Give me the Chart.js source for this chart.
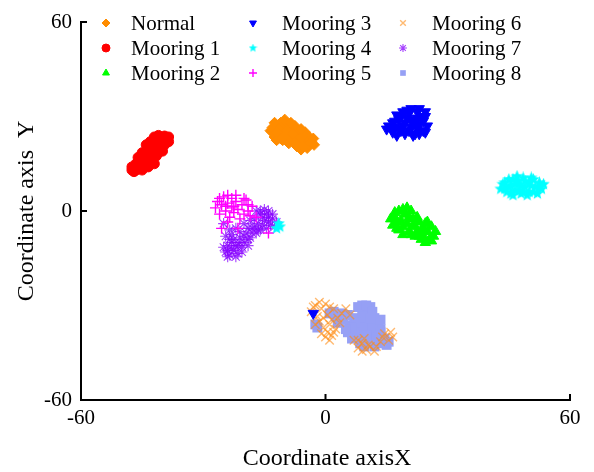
<!DOCTYPE html>
<html>
<head>
<meta charset="utf-8">
<script src="https://cdn.jsdelivr.net/npm/chart.js@4.4.0/dist/chart.umd.min.js"></script>
<style>
  html, body { margin: 0; padding: 0; background: #fff; }
</style>
</head>
<body>
<canvas id="myChart" width="594" height="472"></canvas>
<script>
// Class names, in legend order (column by column)
const seriesNames = ['Normal', 'Mooring 1', 'Mooring 2', 'Mooring 3', 'Mooring 4', 'Mooring 5', 'Mooring 6', 'Mooring 7', 'Mooring 8'];
const xTicks = [-60, 0, 60];
const yTicks = [-60, 0, 60];

// Embedded coordinates of each class, [x, y]
const normalPts = [[-13,25],[-12,27],[-11,28],[-12.5,23.5],[-11,24.5],[-10,26.5],[-9.5,28],[-10.5,22.5],[-9,24],[-8,26],
  [-8,22],[-7,24.5],[-6.5,21],[-6,23.5],[-5,25],[-5,22],[-4,23.5],[-4.5,20],[-3.5,22],[-6,19.5],[-13,26.5],[-11.5,26],
  [-9,21.5],[-7.5,27],[-12,22.5],[-8.5,23],[-5.5,24],[-7,20.5],[-13.5,25.5],[-12.5,28],[-10,29],[-8.5,28],[-11,23],
  [-9.5,25.5],[-7,23],[-6,26],[-4,21],[-5.5,20.5],[-3,23],[-2.8,21],[-10,24],[-8,24.5],[-6.5,22.5],[-12,25],[-7.5,21.5]];
const m1Pts = [[-39,22.5],[-40,23],[-41,22],[-42,23.5],[-40.5,20.5],[-39.5,21],[-42,21],[-43,20],[-41.5,19.5],[-44,19],
  [-43,22],[-42.5,18],[-44,17.5],[-45,18.5],[-43.5,16],[-45,16],[-46,17],[-46.5,15],[-47.5,14],[-46,13.5],[-44.5,14.5],
  [-42.5,16.5],[-41.5,17.5],[-45,13],[-47,12.5],[-43.5,14],[-40,19],[-38.5,22],[-41,24],[-44,21],[-46.5,13],[-42,15],
  [-38.5,23.5],[-40,21.5],[-43.5,18.5],[-45.5,15],[-47.5,13],[-41,18.5],[-44,15.5],[-39.5,23.8]];
const m2Pts = [[17,-2],[16.5,-4.5],[18,0],[18.5,-3],[18,-6],[19.5,-1],[20,-4],[20.5,-6.5],[21,0],[21.5,-2.5],[22,-5],
  [22.5,-2],[23,-3.5],[23.5,-6],[24,-8],[24.5,-4],[25,-6.5],[25.5,-9],[26,-5],[26.5,-8],[22,-8],[19,-7.5],[23.5,-9],
  [20,1],[17.5,-5.5],[16,-2.5],[17,-0.5],[19,0.5],[19,-5],[20.5,-2],[21,-7.5],[22.5,-6.5],[24,-5.5],[25,-3.5],
  [26,-9.5],[24.5,-10],[27,-6.5],[21.5,-4.5],[23,-8],[17.5,-3.5]];
const m3Pts = [[15.5,27],[16.5,25],[17,28.5],[18,26],[18.5,30],[19.5,24.5],[19.5,28],[20.5,31],[21,26.5],[21.5,29],
  [22,24.5],[22.5,31.5],[23,27.5],[23.5,30],[24,25.5],[24.5,31.5],[17.5,24],[20,32],[21.5,24],[16,26.5],[23,24.5],
  [24,28.5],[19,27],[22,28],[18,29],[15,26],[16.5,28],[17.5,30.5],[19,31.5],[21,32.5],[23,32.5],[24.5,30],[25,27],
  [24.5,25],[22.5,26],[20.5,25.5],[20,29.5],[18.5,25.5],[17,26.5],[21,28.5],[22.5,29.5],[-3,-32.5]];
const m4Pts = [[43,7],[44,9],[44.5,6],[45.5,8],[46,10],[46.5,6.5],[47.5,8.5],[48,5.5],[48.5,10.5],[49,7.5],[50,9],
  [50,6],[51,10],[51.5,7.5],[52,5.5],[52.5,9],[53,7],[46,5],[49.5,5],[47,11],[45,7.5],[50.5,8],[44,7],[48,8],
  [43.5,8.5],[45,10],[46.5,8.5],[47.5,6.5],[49,9.5],[50.5,10.5],[51,6],[52.5,7.5],[53.5,8.5],[48.5,6],[45.5,5.5],
  [47,9.5],[-11.5,-4],[-12,-5.5],[-11.2,-5]];
const m5Pts = [[-27,1],[-26.5,3],[-26,-1],[-25.5,2],[-25,4.5],[-24.5,0],[-24,2.5],[-23.5,-2],[-23,4],[-23,1],
  [-22.5,-0.5],[-22,3],[-21.5,0.5],[-21,-2.5],[-20.5,2],[-20,-1],[-19.5,3.5],[-19,0],[-18.5,-1.5],[-18,1.5],
  [-25.5,-5.5],[-21.5,-5.5],[-14,-7],[-17,-2],[-24,-3.5],[-26,4],[-24,5],[-22,5],[-20,4],[-19,2],[-22.5,1.5],[-24.5,1.5]];
const m6Pts = [[-3.5,-32],[-2.5,-30],[-2,-33.5],[-1,-31],[-1.5,-35],[0,-29.5],[0.5,-33],[-0.5,-37],[1,-36],[1.5,-39.5],
  [0,-40],[2,-31],[3,-34],[4,-32.5],[5,-31],[2.5,-37.5],[-2.5,-36],[7,-41],[8,-43.5],[9,-42],[10,-44],[11,-43],
  [12,-44.5],[13.5,-41.5],[14.5,-39],[15.5,-41],[16,-38.5],[9.5,-40.5],[1,-41],[-3,-30.5],[-1.5,-29],[1,-30.5],
  [-0.5,-34],[1.5,-34.5],[2,-38.5],[0.5,-38.5],[-1,-39],[3.5,-35.5],[6,-33],[8,-41],[12.5,-43],[10.5,-42.5],[14,-40],
  [16.5,-40],[9,-44.5]];
const m7Pts = [[-24.5,-13],[-23.5,-14],[-22.5,-12.5],[-24,-11],[-23,-10],[-21.5,-11],[-22,-14.5],[-20.5,-13],[-24.5,-8],
  [-23,-7.5],[-21,-8.5],[-20,-10],[-19.5,-7],[-18.5,-8.5],[-18,-5.5],[-17,-7],[-16.5,-4],[-16,-1],[-15,-3],[-15,0.5],
  [-14,-2],[-13.5,-4.5],[-13,-1],[-12,-3.5],[-17.5,-2.5],[-16,-6],[-20,-4],[-22,-5.5],[-18.5,-3],[-14.5,-5.5],
  [-25,-4],[-19,-11],[-17,0],[-24,-14.5],[-23,-12],[-21.5,-13.5],[-22.5,-9],[-21,-10],[-23.5,-9],[-20,-8],[-19,-9],
  [-18,-7],[-17.5,-5],[-16.5,-6],[-15.5,-4.5],[-15.5,-2],[-14.5,-1],[-14,-3.5],[-13,-2.5],[-12.5,-5],[-16,0],[-14,0],
  [-19,-5.5],[-21,-6.5],[-23.5,-6],[-25,-11.5],[-20.5,-11.5],[-22,-11],[-24,-12.5]];
const m8Pts = [[1,-32.5],[2.5,-33.5],[4,-32.5],[5.5,-33],[3,-35.5],[-2,-37],[9,-30],[11,-30.5],[10,-32.5],[7,-34],
  [8.5,-35],[10.5,-35.5],[12,-34],[13,-36],[6,-36.5],[7.5,-38],[9,-39.5],[11,-38.5],[13,-39],[14.5,-40.5],[12,-41.5],
  [6.5,-40.5],[8.5,-42],[10.5,-41],[15,-42.5],[13.5,-37.5],[5.5,-38.5],[2,-32],[4.5,-34.5],[-2.5,-36],[8,-30.5],
  [10,-30],[11.5,-32],[9,-33.5],[7.5,-35.5],[9.5,-37],[11.5,-37],[13.5,-38.5],[12.5,-40],[10,-39.5],[8,-40],[7,-39],
  [14,-42],[12,-43],[9.5,-43],[6.5,-37],[5,-37.5],[15.5,-41.5],[13.5,-34.5],[11,-34]];

const allPts = [normalPts, m1Pts, m2Pts, m3Pts, m4Pts, m5Pts, m6Pts, m7Pts, m8Pts];

// small filled five-point star used as a marker
function makeStar(size, color) {
  const c = document.createElement('canvas');
  c.width = c.height = size;
  const g = c.getContext('2d');
  g.fillStyle = color;
  g.beginPath();
  for (let i = 0; i < 10; i++) {
    const r = i % 2 ? size * 0.22 : size * 0.5;
    const a = -Math.PI / 2 + i * Math.PI / 5;
    g.lineTo(size / 2 + r * Math.cos(a), size / 2 + r * Math.sin(a));
  }
  g.closePath();
  g.fill();
  return c;
}

const styles = [
  { color: '#ff8c00', pointStyle: 'rectRot', radius: 5.5, borderWidth: 1 },
  { color: '#ff0000', pointStyle: 'circle', radius: 5, borderWidth: 1 },
  { color: '#00ff00', pointStyle: 'triangle', radius: 6, borderWidth: 1 },
  { color: '#0000ff', pointStyle: 'triangle', rotation: 180, radius: 6, borderWidth: 1 },
  { color: '#00ffff', pointStyle: makeStar(13, '#00ffff'), legendStyle: makeStar(9, '#00ffff'), radius: 5, borderWidth: 1 },
  { color: '#ff00ff', pointStyle: 'cross', radius: 5.5, borderWidth: 1.4 },
  { color: 'rgba(255,140,20,0.6)', pointStyle: 'crossRot', radius: 6, borderWidth: 1.4 },
  { color: 'rgba(135,0,255,0.75)', pointStyle: 'star', radius: 5.5, borderWidth: 1.1 },
  { color: 'rgb(150,160,245)', pointStyle: 'rect', radius: 7, borderWidth: 0 }
];

const datasets = seriesNames.map((name, i) => ({
  label: name,
  data: allPts[i].map(p => ({ x: p[0], y: p[1] })),
  pointStyle: styles[i].pointStyle,
  rotation: styles[i].rotation || 0,
  pointRadius: styles[i].radius,
  pointBorderWidth: styles[i].borderWidth,
  backgroundColor: styles[i].color,
  borderColor: styles[i].color,
  showLine: false
}));

const FONT = '"Liberation Serif", "Times New Roman", serif';

// Legend in three columns, titles and inward tick marks
const decorations = {
  id: 'decorations',
  afterDraw(chart) {
    const ctx = chart.ctx;
    const xs = chart.scales.x, ys = chart.scales.y;
    ctx.save();
    ctx.strokeStyle = '#000';
    ctx.lineWidth = 2;
    ctx.beginPath();
    [0, 60].forEach(v => {
      const py = ys.getPixelForValue(v);
      ctx.moveTo(xs.left, py);
      ctx.lineTo(xs.left + 6, py);
      const px = xs.getPixelForValue(v);
      ctx.moveTo(px, ys.bottom);
      ctx.lineTo(px, ys.bottom - 6);
    });
    ctx.stroke();

    const markX = [106, 253, 403];
    const textX = [131, 282, 432];
    const rowY = [23, 48, 73];
    ctx.font = '21px ' + FONT;
    ctx.textBaseline = 'middle';
    ctx.textAlign = 'left';
    seriesNames.forEach((name, i) => {
      const col = Math.floor(i / 3), row = i % 3;
      const st = styles[i];
      ctx.fillStyle = st.color;
      ctx.strokeStyle = st.color;
      ctx.lineWidth = st.borderWidth || 1;
      Chart.helpers.drawPoint(ctx, {
        pointStyle: st.legendStyle || st.pointStyle,
        rotation: st.rotation || 0,
        radius: 4,
        borderWidth: st.borderWidth
      }, markX[col], rowY[row]);
      ctx.fillStyle = '#000';
      ctx.fillText(name, textX[col], rowY[row] + 1);
    });

    ctx.font = '24px ' + FONT;
    ctx.fillStyle = '#000';
    ctx.textAlign = 'center';
    ctx.textBaseline = 'alphabetic';
    ctx.fillText('Coordinate axisX', 327, 465);
    ctx.translate(33, 211);
    ctx.rotate(-Math.PI / 2);
    ctx.fillText('Coordinate axis  Y', 0, 0);
    ctx.restore();
  }
};

new Chart(document.getElementById('myChart').getContext('2d'), {
  type: 'scatter',
  data: { datasets: datasets },
  options: {
    responsive: false,
    animation: false,
    events: [],
    layout: { padding: { left: 0, right: 24, top: 22, bottom: 0 } },
    plugins: { legend: { display: false }, tooltip: { enabled: false } },
    scales: {
      x: {
        min: -60, max: 60,
        afterFit: s => { s.height = 72; },
        afterBuildTicks: s => { s.ticks = xTicks.map(v => ({ value: v })); },
        grid: { display: false, drawTicks: false },
        border: { display: true, color: '#000', width: 2 },
        ticks: { color: '#000', padding: 6, maxRotation: 0, font: { family: FONT, size: 21 } }
      },
      y: {
        min: -60, max: 60,
        afterFit: s => { s.width = 81; },
        afterBuildTicks: s => { s.ticks = yTicks.map(v => ({ value: v })); },
        grid: { display: false, drawTicks: false },
        border: { display: true, color: '#000', width: 2 },
        ticks: { color: '#000', padding: 9, font: { family: FONT, size: 21 } }
      }
    }
  },
  plugins: [decorations]
});
</script>
</body>
</html>
